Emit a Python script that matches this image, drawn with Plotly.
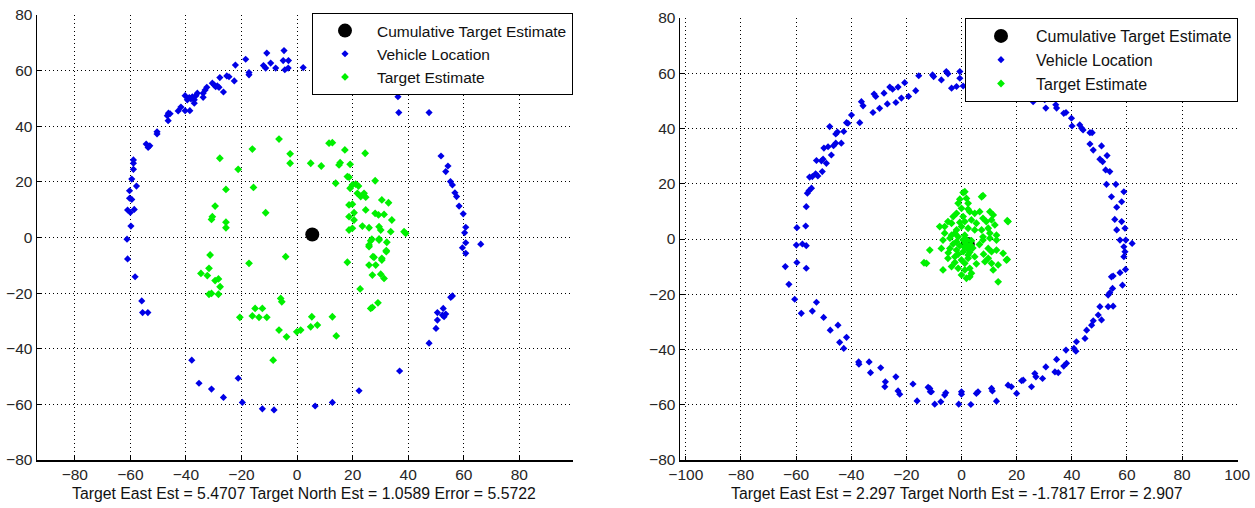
import plotly.graph_objects as go

# ---------------- data: left panel ----------------
left_cum_x = [5.4707]
left_cum_y = [1.0589]

left_vehicle = [
    (-61.2, -0.6), (-59.8, 4.1), (-61, 9.9), (-60, 9), (-58.6, 10.1), (-60.3, 14.1), (-59.5, 13.7),
    (-60.3, 16.8), (-57.8, 18.5), (-59.5, 21), (-58.9, 24.5), (-58.9, 26.7), (-58.9, 27.9),
    (-54.3, 33.6), (-53.6, 32.4), (-53, 33), (-50.4, 38), (-50.4, 37.2), (-46.7, 43.8), (-46.3, 44.7),
    (-45.7, 44.5), (-46.4, 42), (-42.8, 45.5), (-41.8, 46.9), (-40.3, 45.6), (-38.6, 45.6), (-40.3, 51),
    (-39.5, 49.5), (-38.8, 50.3), (-38.2, 49.8), (-37.7, 50.6), (-37, 48.3), (-37, 49.5), (-36.4, 51),
    (-35.9, 51.9), (-33.8, 51.9), (-33.8, 50.4), (-33.1, 53), (-32.5, 54), (-30.5, 55.5), (-29.9, 54.9),
    (-29.3, 54.2), (-28.7, 54.5), (-28.1, 54), (-27.8, 57.5), (-26.5, 52.3), (-25.3, 58.1), (-24.5, 57.8),
    (-22.6, 56.3), (-22.2, 62), (-18.5, 64.1), (-17.3, 59.3), (-17.3, 58.5), (-12.1, 61.8), (-11.3, 60.9),
    (-10.9, 66.3), (-9.5, 62.7), (-7.7, 60.9), (-4.7, 67.2), (-5, 63.6), (-3.1, 63.6), (-4.4, 60.3),
    (-3.2, 60.9), (2.2, 61.1),
    (36.3, 50.6), (36.6, 44.9), (47.5, 44.9), (51.8, 29.3), (54.3, 25.7), (53.5, 23.7), (55.2, 20.1),
    (55.9, 18.9), (56.8, 16.1), (57.4, 14.7), (58.3, 11.3), (59.8, 8.5), (60.7, 3.7), (60.3, 1.7),
    (59.5, -3.7), (60.7, -1.9), (60.7, -5.7), (66.1, -2.4),
    (55.3, -21.5), (55.9, -21), (52.6, -25.5), (50.5, -27), (52.3, -27.9), (53.5, -27.5), (52.9, -28.5),
    (50.5, -29.7), (50, -32.7), (47.5, -38), (36.9, -48), (22.3, -55.1), (12.7, -59.3), (6.5, -60.6),
    (-61, -7.7), (-58.3, -14.1), (-55.9, -22.8), (-55.6, -27), (-53.7, -27), (-37.9, -44.1),
    (-35.3, -52.4), (-30.8, -54.5), (-26.5, -57.5), (-21.2, -50.6), (-19.7, -59.3), (-12.5, -61.6),
    (-8.3, -62),
]

left_target = [
    (-27.8, 28.5), (-25.6, 17.3), (-21.2, 24.5), (-16.1, 31.8), (-15.7, 18), (-29.5, 11.3), (-30.5, 7.5),
    (-30.8, 6.5), (-25.6, 5.5), (-25.6, 3.5), (-11.3, 8.9), (-6.5, 35.4), (-2.5, 30.1), (-2.5, 26.7),
    (4.9, 26.7), (-31.3, -6.3), (-4.1, -6.9),
    (-34.6, -12.9), (-32.3, -13.7), (-31.7, -11.1), (-29.5, -15.5), (-28.3, -14.9), (-27.7, -17.7),
    (-31.7, -20.4), (-30.8, -20.1), (-28.3, -20.4), (-17.3, -9.3), (-15.1, -25.5), (-12.5, -25.5),
    (-16.1, -28.2), (-13.7, -28.7), (-10.9, -28.7), (-20.6, -28.7), (-5.9, -21.9), (-5.5, -23.1),
    (-6.5, -33.3), (-3.8, -35.7), (-0.1, -33.9), (1.3, -33.3), (-8.6, -44.1), (5.3, -28.5), (4.9, -32.1),
    (7.3, -31.5),
    (12.7, -28.5), (14.1, -35.4), (18.1, -8.9), (22.7, -18.5), (26.5, -25.5), (27.1, -25.1), (29.1, -23.5),
    (25.9, -2.7), (26.5, -1.2), (29.5, -0.9), (25.9, -9.9), (27.7, -7.1), (28.3, -9.9), (30.5, -8.1),
    (32.1, -5.1), (27.1, -13.5), (30.1, -13.2), (31.3, -14.7),
    (11.5, 33.9), (12.7, 34.1), (17.2, 31.5), (24.5, 30.3), (8.7, 25.7), (15.5, 26.9), (15.1, 26.1),
    (19.1, 26.3), (18.1, 21.9), (18.7, 21.7), (13.9, 19.5), (28.1, 20.4), (19.9, 18.9), (21.1, 19.2),
    (22.1, 18.5), (19.1, 17.7), (21.7, 15.9), (24.1, 15.9), (22.9, 14.7), (24.7, 14.5), (30.5, 13.5),
    (32.9, 12.5), (18.7, 11.7), (19.9, 12), (24.7, 9.9), (20.5, 8.9), (28.1, 8.7), (29.3, 8.1),
    (31.3, 8.3), (18.7, 7.5), (20.5, 6.3), (34.1, 6.3), (23.5, 4.1), (25.9, 3.5), (29.5, 3.9), (30.1, 2.7),
    (18.7, 2.7), (19.9, 3.3), (33.7, 2.1), (38.5, 2.1), (39.1, 1.5), (26.9, -0.6), (29.5, -0.5),
    (32.3, -1.7), (25.9, -3.3), (27.3, -6.9), (30.5, -7.5), (32.1, -4.7),
]

# ---------------- data: right panel ----------------
right_cum_x = [2.297]
right_cum_y = [-1.7817]

right_vehicle = [
    (-59.9, -2.2), (-57.7, -1.8), (-56.3, -2.4), (-59.7, 4.1), (-56.5, 4.7), (-56.3, 11.7), (-55.9, 16.6),
    (-55.3, 17.5), (-54.4, 18.4), (-55.1, 22.4), (-54.1, 22.6), (-52.9, 23.6), (-52.1, 22.8),
    (-50.5, 24.4), (-52.6, 28.4), (-50.8, 28.3), (-49, 27.4), (-50.2, 28.9), (-49.9, 32.9), (-48.4, 33.4),
    (-47.2, 30.4), (-46.4, 33.8), (-45.6, 34.7), (-47.8, 40.7), (-45.6, 38), (-45, 38.7), (-43.6, 34.7),
    (-42.7, 38.9), (-41.7, 42.1), (-41.2, 41.9), (-39.9, 44.9), (-36.9, 42.1), (-36.3, 49.7),
    (-35.7, 48.2), (-32.1, 45.8), (-31.7, 52.5), (-31.1, 51.6), (-29.7, 47.3), (-28.1, 52.8),
    (-26.9, 48.9), (-26, 55), (-25, 54.2), (-23.8, 49.4), (-23, 55), (-21.8, 51), (-20.6, 56.6),
    (-19.2, 51.6), (-16.6, 53.7), (-15.5, 59.1), (-10.5, 59.4), (-10.1, 58.8),
    (-7.3, 57.6), (-5.5, 60.6), (-4.9, 59.8), (-3.6, 54.6), (-1.8, 55.2), (-0.6, 60.6), (-0.6, 58.2),
    (0.6, 55.4), (4, 58.5), (7, 56), (10, 58), (13, 55), (16, 56.5), (19, 54), (22, 55.5),
    (24.2, 51), (26, 49.7), (30.2, 50.4), (30.6, 47.4), (34.2, 48.6), (34.5, 47.4), (37.1, 45.5),
    (37.9, 45.8), (39.9, 43.7), (40.1, 40.9), (42.9, 41.3), (43.6, 40.1), (44.1, 39.5), (46.6, 38.5),
    (47.4, 38.5), (46.6, 34.4), (47.8, 32.2), (50.8, 33.7), (50.2, 28.9), (51.2, 28), (52.8, 30.2),
    (52.3, 25), (53.8, 24.4), (52.6, 19.8), (56, 19.8), (54.4, 15.3), (56.3, 11.5), (58.1, 13.5),
    (58.9, 17.1), (55.6, 7.1), (58.1, 6.3), (56.3, 3.3), (59.3, 3.9), (57.5, -0.4), (59.6, -0.4),
    (61.9, -1.6), (58.9, -2.8), (59.3, -4.6), (58.9, -6.4),
    (59.5, -11), (57.5, -12.2), (55, -13.4), (54.4, -13.7), (58.4, -16.7), (54.8, -17.9), (53.8, -19.5),
    (53.2, -20.3), (53.2, -24.5), (55, -24.3), (50.2, -24.5), (49.6, -27.5), (50.8, -29.3), (47.8, -29.6),
    (47.2, -31.2), (45.4, -33), (44.8, -36), (41.7, -37.2), (40.8, -39.6), (41.5, -40.6), (37.9, -40.2),
    (38.1, -45), (37.1, -46), (34.5, -43.6), (33.9, -48.1), (35.1, -48.4), (30.6, -46.3), (29.4, -50.5),
    (26.6, -48.7), (27, -49.9), (25.4, -53.5), (22.4, -51.1), (21.8, -51.3), (16.9, -52.9), (18.1, -53.5),
    (20, -55.9), (10.9, -54.1), (11.2, -55), (12.7, -58.7), (6, -55.3), (5.4, -55.9), (3.4, -59.9),
    (0, -55.3), (0, -56.2), (-1, -59.8), (-5.7, -55.7), (-6.1, -56.5), (-7.5, -58.9), (-9.7, -59.8),
    (-11.5, -54.1), (-10.9, -55.3),
    (-63.9, -10), (-59.7, -8.5), (-56.3, -10.6), (-62.6, -16.4), (-60.5, -21.8), (-58.1, -26.9),
    (-54.1, -26.1), (-52.6, -22.9), (-50, -28.4), (-47.6, -33), (-44.8, -31.2), (-44.2, -37.4),
    (-42.7, -39.6), (-41.7, -35.6), (-37.3, -44.5), (-37.2, -45.3), (-33.5, -44.5), (-33, -48.4),
    (-29.3, -46.6), (-27.6, -51.7), (-27.8, -53.5), (-23.8, -49.9), (-23, -55), (-22.4, -56.2),
    (-17.6, -52.5), (-16.1, -58.6), (-12.1, -53.7), (-11.3, -55.3),
]

right_target = [
    (0.6, 16.8), (7.8, 15.7), (1.8, 14.7), (2.4, 12.9), (-1.2, 12.9), (0, 11.1), (3, 9.9), (4.8, 9.3),
    (6.6, 9.9), (10.3, 9.9), (11.5, 8.7), (-1.8, 9.3), (-3, 8.1), (-4.9, 6.3), (-3.6, 5.7), (-6.1, 4.5),
    (-7.9, 4.5), (0.6, 8.1), (1.2, 6.3), (3.6, 6.9), (5.4, 5.7), (7.8, 7.5), (9, 6.3), (10.9, 6.9),
    (12.1, 5.1), (9.7, 3.9), (7.3, 3.3), (4.8, 3.3), (2.4, 3.9), (0, 4.5), (-1.8, 3.3), (16.9, 6.3),
    (-6.1, 2.1), (-3.6, 1.4), (-1.2, 0.8), (1.2, 1.4), (7.8, 0.8), (10.3, 2.1), (12.7, 1.4),
    (-6.7, -0.4), (-4.2, 0.3), (-1.8, -1), (0.6, -0.4), (7.8, -0.4), (10.3, 0.3), (12.7, -0.4),
    (-11.5, -4), (-7.3, -3.4), (-4.2, -3.4), (-1.8, -4), (0.6, -4.6), (3, -4.8), (9.7, -3.4), (10.9, -4.6),
    (12.7, -4), (15.1, -5.2), (-12.7, -8.8), (-4.9, -7), (-2.4, -6.4), (0, -7.6), (2.4, -7), (4.8, -6.4),
    (8.5, -8.2), (9.7, -7), (10.9, -8.8), (13.3, -9.4), (16.3, -7.6), (-6.7, -11.2), (-3.6, -10),
    (-1.2, -10.6), (1.2, -11.2), (3, -10.6), (11.5, -11.2), (0, -13), (1.8, -14.2), (3, -13.7),
    (3.6, -12.4), (13.3, -15.5), (-13.6, -8.6), (16.6, -7.4), (1.2, 17.1), (7.3, 15.3), (16.6, 6.6),
    (-2.4, 2.1), (-0.6, -2.4), (-3, -1.8), (-0.6, 6), (2.4, 10.8), (-2.4, -8.5), (1.2, -8.8),
    (-1.2, -5.5), (2.4, -5.8), (-4.8, -5), (6.5, -2), (8, -5.5), (5.4, -9), (-0.6, 14.4),
    (1.5, -1.5), (3.3, -2.2), (2.2, -3.4), (2.0, -0.4), (3.6, -0.6), (1.0, -2.9), (4.1, -3.3),
]

x_ticks_left = [-80, -60, -40, -20, 0, 20, 40, 60, 80]
x_ticks_right = [-100, -80, -60, -40, -20, 0, 20, 40, 60, 80, 100]
y_ticks = [-80, -60, -40, -20, 0, 20, 40, 60, 80]

left_label = "Target East Est = 5.4707 Target North Est = 1.0589 Error = 5.5722"
right_label = "Target East Est = 2.297 Target North Est = -1.7817 Error = 2.907"
names = ["Cumulative Target Estimate", "Vehicle Location", "Target Estimate"]

# ---------------- styling ----------------
W, H = 1255, 508
FONT = "Liberation Sans, Arial, sans-serif"
BLUE = "#0000e6"
GREEN = "#00f000"


def px_x(p):
    return p / W


def px_y(p):
    return 1 - p / H


fig = go.Figure()


def add_panel(cx, cy, veh, tgt, xa, ya, legend):
    common = dict(xaxis=xa, yaxis=ya, legend=legend, mode="markers", hoverinfo="skip")
    fig.add_trace(go.Scatter(x=cx, y=cy, name=names[0], legendgroup=legend + "a",
                             marker=dict(symbol="circle", size=14, color="black"), **common))
    fig.add_trace(go.Scatter(x=[p[0] for p in veh], y=[p[1] for p in veh], name=names[1],
                             legendgroup=legend + "b",
                             marker=dict(symbol="diamond", size=5.5, color=BLUE), **common))
    fig.add_trace(go.Scatter(x=[p[0] for p in tgt], y=[p[1] for p in tgt], name=names[2],
                             legendgroup=legend + "c",
                             marker=dict(symbol="diamond", size=6, color=GREEN), **common))


add_panel(left_cum_x, left_cum_y, left_vehicle, left_target, "x", "y", "legend")
add_panel(right_cum_x, right_cum_y, right_vehicle, right_target, "x2", "y2", "legend2")

axis_common = dict(
    showgrid=True, gridcolor="black", griddash="1px,3px", gridwidth=1,
    zeroline=False, showline=True, linecolor="black", linewidth=1.5, mirror=False,
    ticks="inside", ticklen=4, tickcolor="black", ticklabeloverflow="allow",
    tickfont=dict(family=FONT, size=15.5, color="#262626"), automargin=False,
)

legend_common = dict(
    bgcolor="white", bordercolor="black", borderwidth=1,
    tracegroupgap=0, xanchor="right", yanchor="top",
    xref="paper", yref="paper", itemclick=False, itemdoubleclick=False,
)

fig.update_layout(
    width=W, height=H,
    margin=dict(l=0, r=0, t=0, b=0),
    paper_bgcolor="white", plot_bgcolor="white",
    xaxis=dict(domain=[px_x(37), px_x(573)], range=[-93.6, 99.3], tickvals=x_ticks_left,
               anchor="y", **axis_common),
    yaxis=dict(domain=[px_y(460), px_y(15)], range=[-80, 80], tickvals=y_ticks,
               anchor="x", **axis_common),
    xaxis2=dict(domain=[px_x(680), px_x(1238)], range=[-102.1, 100.3], tickvals=x_ticks_right,
                anchor="y2", **axis_common),
    yaxis2=dict(domain=[px_y(460), px_y(18)], range=[-80, 80], tickvals=y_ticks,
                anchor="x2", **axis_common),
    legend=dict(x=px_x(573), y=px_y(13), itemwidth=54,
                font=dict(family=FONT, size=15.5, color="#111"), **legend_common),
    legend2=dict(x=px_x(1238), y=px_y(18), itemwidth=60,
                 font=dict(family=FONT, size=16, color="#111"), **legend_common),
    annotations=[
        dict(text=left_label, x=px_x(304), y=px_y(493), xref="paper", yref="paper",
             showarrow=False, xanchor="center", yanchor="middle",
             font=dict(family=FONT, size=15.8, color="#111")),
        dict(text=right_label, x=px_x(957), y=px_y(493), xref="paper", yref="paper",
             showarrow=False, xanchor="center", yanchor="middle",
             font=dict(family=FONT, size=15.8, color="#111")),
    ],
    showlegend=True,
)

fig.write_html(
    "out.html",
    config={"displayModeBar": False, "staticPlot": True},
    post_script="document.body.style.margin='0';document.body.style.overflow='hidden';",
)
